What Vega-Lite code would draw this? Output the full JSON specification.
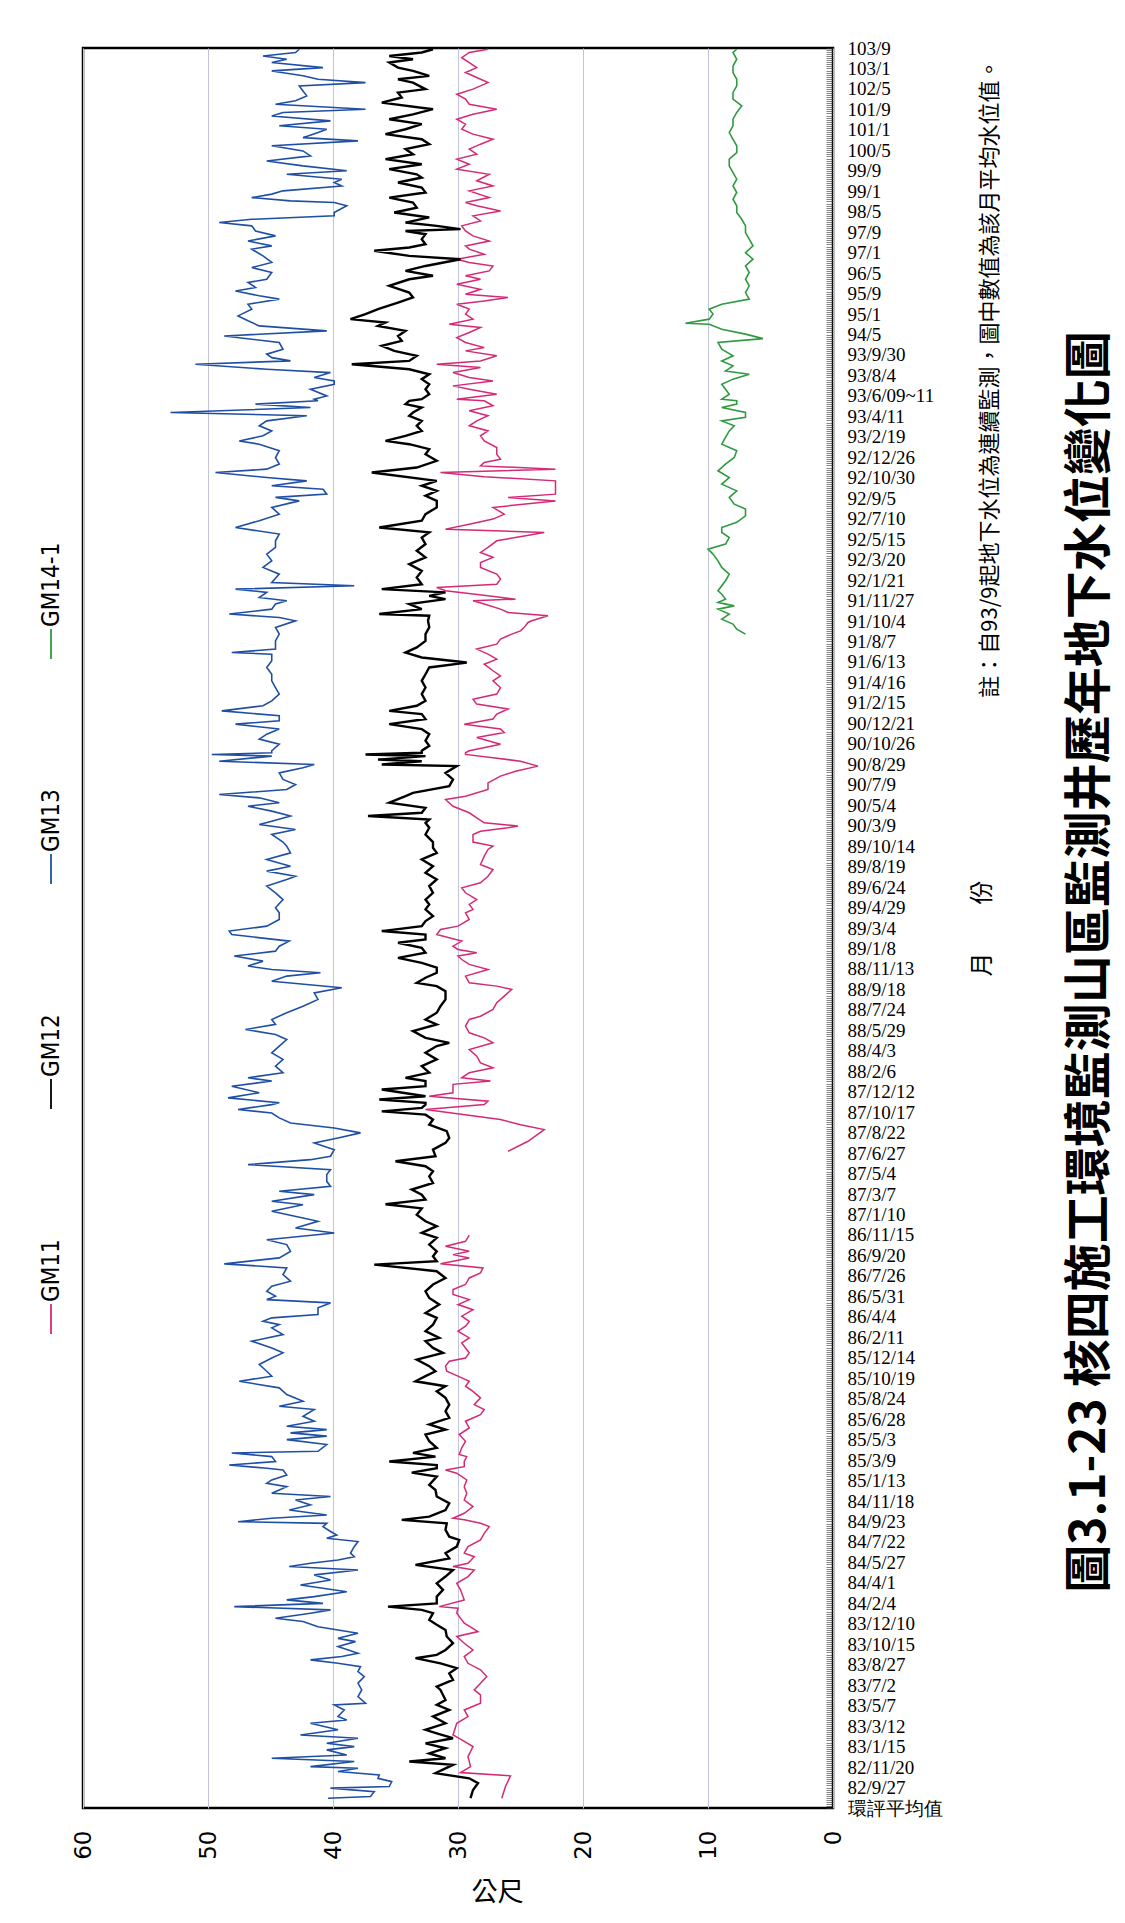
{
"$schema":"https://vega.github.io/schema/vega-lite/v6.json",
"width":750,"height":1760,
"autosize":{"type":"none"},
"padding":{"left":83,"top":48,"right":292,"bottom":115},
"background":"white",
"config":{"view":{"stroke":"#000","strokeWidth":2.5},"font":"Noto Sans CJK TC","axis":{"labelColor":"#000","titleColor":"#000"}},
"title":{"text":"圖3.1-23 核四施工環境監測山區監測井歷年地下水位變化圖","orient":"right","angle":270,"frame":"group","anchor":"middle","baseline":"middle","fontSize":48,"fontWeight":"bold","color":"#000","offset":43,"dx":-34,"font":"Noto Sans CJK TC"},
"datasets":{
"gm11a":[{"t":0.48,"v":26.5},{"t":1.05,"v":26.2},{"t":1.57,"v":25.8},{"t":1.73,"v":29.8},{"t":2.02,"v":29.0},{"t":2.51,"v":29.2},{"t":3.0,"v":28.8},{"t":3.33,"v":29.7},{"t":3.57,"v":30.4},{"t":4.14,"v":30.1},{"t":4.47,"v":29.2},{"t":4.79,"v":29.5},{"t":5.12,"v":28.2},{"t":5.53,"v":28.2},{"t":5.77,"v":28.7},{"t":6.1,"v":28.2},{"t":6.42,"v":27.7},{"t":6.75,"v":28.2},{"t":7.07,"v":29.2},{"t":7.4,"v":29.5},{"t":7.72,"v":28.8},{"t":8.05,"v":29.5},{"t":8.38,"v":30.1},{"t":8.62,"v":28.4},{"t":9.03,"v":29.5},{"t":9.52,"v":30.1},{"t":9.76,"v":30.0},{"t":9.84,"v":31.5},{"t":10.17,"v":29.5},{"t":10.66,"v":29.8},{"t":10.98,"v":30.1},{"t":11.31,"v":29.2},{"t":11.63,"v":28.7},{"t":11.8,"v":30.4},{"t":11.96,"v":29.2},{"t":12.28,"v":28.7},{"t":12.45,"v":29.5},{"t":12.77,"v":29.2},{"t":13.1,"v":28.2},{"t":13.42,"v":27.9},{"t":13.75,"v":27.5},{"t":13.91,"v":28.2},{"t":14.08,"v":29.5},{"t":14.16,"v":30.4},{"t":14.4,"v":29.5},{"t":14.73,"v":28.8},{"t":15.05,"v":29.5},{"t":15.38,"v":29.3},{"t":15.7,"v":29.5},{"t":16.03,"v":29.3},{"t":16.36,"v":30.1},{"t":16.52,"v":31.0},{"t":16.68,"v":29.5},{"t":16.93,"v":29.5},{"t":17.17,"v":29.3},{"t":17.27,"v":29.9},{"t":17.6,"v":29.7},{"t":17.92,"v":29.4},{"t":18.25,"v":29.9},{"t":18.57,"v":29.1},{"t":18.9,"v":29.4},{"t":19.22,"v":28.2},{"t":19.47,"v":27.9},{"t":19.71,"v":28.7},{"t":20.04,"v":28.2},{"t":20.36,"v":28.8},{"t":20.61,"v":29.4},{"t":20.85,"v":29.1},{"t":21.1,"v":30.0},{"t":21.34,"v":30.9},{"t":21.59,"v":31.0},{"t":21.83,"v":30.7},{"t":21.99,"v":29.4},{"t":22.24,"v":29.1},{"t":22.48,"v":29.4},{"t":22.73,"v":29.7},{"t":22.97,"v":29.1},{"t":23.3,"v":30.0},{"t":23.54,"v":29.4},{"t":23.78,"v":29.1},{"t":24.03,"v":29.7},{"t":24.35,"v":28.8},{"t":24.6,"v":30.0},{"t":24.84,"v":29.1},{"t":25.09,"v":30.4},{"t":25.33,"v":30.4},{"t":25.58,"v":29.4},{"t":25.9,"v":29.1},{"t":26.15,"v":28.2},{"t":26.39,"v":28.0},{"t":26.59,"v":31.4},{"t":26.88,"v":29.1},{"t":27.04,"v":30.4},{"t":27.2,"v":29.1},{"t":27.45,"v":31.0},{"t":27.69,"v":29.4},{"t":27.99,"v":29.1}],
"gm11b":[{"t":32.09,"v":26.0},{"t":32.58,"v":24.4},{"t":33.15,"v":23.1},{"t":33.39,"v":25.0},{"t":33.64,"v":26.6},{"t":34.13,"v":32.6},{"t":34.37,"v":27.9},{"t":34.54,"v":27.6},{"t":34.78,"v":32.3},{"t":34.95,"v":30.4},{"t":35.36,"v":30.4},{"t":35.52,"v":27.4},{"t":35.68,"v":29.7},{"t":35.93,"v":29.1},{"t":36.17,"v":27.2},{"t":36.41,"v":28.2},{"t":36.74,"v":28.5},{"t":37.06,"v":29.1},{"t":37.39,"v":27.2},{"t":37.63,"v":27.9},{"t":37.88,"v":29.1},{"t":38.21,"v":29.4},{"t":38.53,"v":29.1},{"t":38.69,"v":28.2},{"t":39.02,"v":27.2},{"t":39.35,"v":26.9},{"t":39.67,"v":26.3},{"t":40.0,"v":25.7},{"t":40.16,"v":26.9},{"t":40.32,"v":29.1},{"t":40.65,"v":29.4},{"t":40.97,"v":27.6},{"t":41.22,"v":29.1},{"t":41.46,"v":29.7},{"t":41.63,"v":30.0},{"t":41.79,"v":28.5},{"t":41.95,"v":30.0},{"t":42.11,"v":30.4},{"t":42.36,"v":29.7},{"t":42.68,"v":31.7},{"t":42.93,"v":31.4},{"t":43.09,"v":30.0},{"t":43.42,"v":29.1},{"t":43.74,"v":29.4},{"t":43.91,"v":28.8},{"t":44.15,"v":29.1},{"t":44.39,"v":28.5},{"t":44.72,"v":29.4},{"t":44.96,"v":29.7},{"t":45.21,"v":28.2},{"t":45.53,"v":27.6},{"t":45.86,"v":27.2},{"t":46.1,"v":28.2},{"t":46.51,"v":27.9},{"t":46.84,"v":27.6},{"t":47.0,"v":27.2},{"t":47.2,"v":28.8},{"t":47.57,"v":28.8},{"t":47.73,"v":28.2},{"t":47.9,"v":26.0},{"t":47.98,"v":25.2},{"t":48.14,"v":27.9},{"t":48.38,"v":28.5},{"t":48.63,"v":29.1},{"t":48.95,"v":30.4},{"t":49.28,"v":31.0},{"t":49.44,"v":29.4},{"t":49.77,"v":27.6},{"t":50.09,"v":27.6},{"t":50.42,"v":26.6},{"t":50.66,"v":25.4},{"t":50.91,"v":23.6},{"t":51.15,"v":25.0},{"t":51.32,"v":27.2},{"t":51.48,"v":29.4},{"t":51.56,"v":29.4},{"t":51.66,"v":29.1},{"t":51.98,"v":26.6},{"t":52.31,"v":28.5},{"t":52.55,"v":26.3},{"t":52.72,"v":26.6},{"t":52.96,"v":29.5},{"t":53.21,"v":27.2},{"t":53.45,"v":26.9},{"t":53.7,"v":26.0},{"t":53.94,"v":28.5},{"t":54.18,"v":28.8},{"t":54.43,"v":26.9},{"t":54.75,"v":26.6},{"t":55.08,"v":27.2},{"t":55.32,"v":26.6},{"t":55.57,"v":27.2},{"t":55.89,"v":27.9},{"t":56.14,"v":26.9},{"t":56.38,"v":27.6},{"t":56.63,"v":28.5},{"t":56.87,"v":26.9},{"t":57.12,"v":26.6},{"t":57.36,"v":25.7},{"t":57.52,"v":25.0},{"t":57.69,"v":24.7},{"t":57.93,"v":24.4},{"t":58.01,"v":24.1},{"t":58.26,"v":22.8},{"t":58.42,"v":26.0},{"t":58.58,"v":26.6},{"t":58.83,"v":27.9},{"t":58.99,"v":28.8},{"t":59.07,"v":25.4},{"t":59.23,"v":27.6},{"t":59.48,"v":31.0},{"t":59.64,"v":31.7},{"t":59.8,"v":26.9},{"t":60.05,"v":26.6},{"t":60.29,"v":26.9},{"t":60.62,"v":28.2},{"t":60.86,"v":28.2},{"t":61.11,"v":27.2},{"t":61.35,"v":28.2},{"t":61.6,"v":27.6},{"t":61.92,"v":26.9},{"t":62.16,"v":24.7},{"t":62.33,"v":23.1},{"t":62.49,"v":31.0},{"t":62.73,"v":29.1},{"t":62.98,"v":27.2},{"t":63.22,"v":26.3},{"t":63.55,"v":27.2},{"t":63.87,"v":22.2},{"t":64.04,"v":26.0},{"t":64.2,"v":22.2},{"t":64.85,"v":22.2},{"t":65.05,"v":27.9},{"t":65.26,"v":31.4},{"t":65.42,"v":22.2},{"t":65.58,"v":28.2},{"t":65.75,"v":27.9},{"t":65.91,"v":26.6},{"t":66.15,"v":26.9},{"t":66.48,"v":26.9},{"t":66.8,"v":27.9},{"t":67.05,"v":28.2},{"t":67.29,"v":27.6},{"t":67.54,"v":29.1},{"t":67.78,"v":28.5},{"t":68.03,"v":27.6},{"t":68.27,"v":29.1},{"t":68.52,"v":27.2},{"t":68.76,"v":27.9},{"t":68.84,"v":30.1},{"t":69.08,"v":26.9},{"t":69.33,"v":29.1},{"t":69.49,"v":30.4},{"t":69.73,"v":27.2},{"t":69.9,"v":29.1},{"t":70.14,"v":30.4},{"t":70.39,"v":28.2},{"t":70.55,"v":31.7},{"t":70.71,"v":28.2},{"t":70.96,"v":26.9},{"t":71.2,"v":29.4},{"t":71.36,"v":27.9},{"t":71.61,"v":29.4},{"t":71.85,"v":30.1},{"t":72.1,"v":29.1},{"t":72.34,"v":28.2},{"t":72.5,"v":30.7},{"t":72.75,"v":28.8},{"t":73.0,"v":29.4},{"t":73.24,"v":29.1},{"t":73.48,"v":30.1},{"t":73.64,"v":27.9},{"t":73.81,"v":26.0},{"t":73.97,"v":29.4},{"t":74.21,"v":28.2},{"t":74.46,"v":30.1},{"t":74.7,"v":28.2},{"t":74.87,"v":29.4},{"t":75.11,"v":27.5},{"t":75.35,"v":27.2},{"t":75.52,"v":29.1},{"t":75.68,"v":30.1},{"t":75.92,"v":27.9},{"t":76.17,"v":29.1},{"t":76.33,"v":29.4},{"t":76.57,"v":27.5},{"t":76.82,"v":28.8},{"t":77.06,"v":29.4},{"t":77.31,"v":29.7},{"t":77.55,"v":28.2},{"t":77.8,"v":28.8},{"t":78.04,"v":26.6},{"t":78.29,"v":28.5},{"t":78.45,"v":29.4},{"t":78.69,"v":27.5},{"t":79.02,"v":29.1},{"t":79.26,"v":27.2},{"t":79.51,"v":28.5},{"t":79.83,"v":27.5},{"t":80.08,"v":30.1},{"t":80.32,"v":29.1},{"t":80.57,"v":30.1},{"t":80.81,"v":28.5},{"t":81.06,"v":29.1},{"t":81.3,"v":28.2},{"t":81.54,"v":27.2},{"t":81.79,"v":28.8},{"t":82.03,"v":29.7},{"t":82.28,"v":29.4},{"t":82.52,"v":30.1},{"t":82.76,"v":28.8},{"t":83.01,"v":26.9},{"t":83.25,"v":29.1},{"t":83.5,"v":29.4},{"t":83.74,"v":30.1},{"t":83.99,"v":28.8},{"t":84.31,"v":27.6},{"t":84.56,"v":28.5},{"t":84.8,"v":29.4},{"t":85.04,"v":28.5},{"t":85.29,"v":29.1},{"t":85.53,"v":29.7},{"t":85.78,"v":29.1},{"t":85.94,"v":27.6}],
"gm12":[{"t":0.48,"v":29.0},{"t":0.88,"v":28.8},{"t":1.21,"v":28.4},{"t":1.45,"v":29.1},{"t":1.7,"v":31.8},{"t":1.94,"v":31.0},{"t":2.11,"v":30.4},{"t":2.27,"v":33.9},{"t":2.43,"v":31.0},{"t":2.67,"v":32.3},{"t":2.92,"v":31.0},{"t":3.16,"v":32.6},{"t":3.41,"v":30.4},{"t":3.65,"v":31.7},{"t":3.82,"v":32.6},{"t":4.14,"v":31.0},{"t":4.47,"v":32.0},{"t":4.79,"v":30.7},{"t":5.04,"v":31.7},{"t":5.28,"v":31.0},{"t":5.77,"v":31.4},{"t":5.93,"v":31.7},{"t":6.26,"v":30.4},{"t":6.58,"v":30.7},{"t":6.83,"v":30.1},{"t":7.07,"v":31.4},{"t":7.32,"v":33.4},{"t":7.48,"v":31.7},{"t":7.72,"v":31.0},{"t":8.05,"v":30.4},{"t":8.38,"v":30.9},{"t":8.7,"v":31.0},{"t":8.95,"v":31.7},{"t":9.19,"v":32.3},{"t":9.52,"v":32.0},{"t":9.68,"v":32.9},{"t":9.84,"v":35.6},{"t":10.0,"v":31.7},{"t":10.33,"v":31.7},{"t":10.66,"v":31.2},{"t":10.98,"v":31.7},{"t":11.31,"v":31.0},{"t":11.63,"v":30.4},{"t":11.88,"v":33.4},{"t":12.2,"v":30.7},{"t":12.45,"v":31.0},{"t":12.77,"v":30.1},{"t":13.1,"v":29.9},{"t":13.26,"v":30.7},{"t":13.59,"v":31.0},{"t":13.91,"v":30.9},{"t":14.08,"v":34.5},{"t":14.24,"v":32.3},{"t":14.56,"v":31.0},{"t":14.89,"v":30.7},{"t":15.22,"v":31.7},{"t":15.54,"v":31.8},{"t":15.79,"v":32.3},{"t":16.19,"v":31.7},{"t":16.39,"v":33.7},{"t":16.6,"v":31.7},{"t":16.76,"v":31.7},{"t":16.93,"v":35.5},{"t":17.17,"v":31.8},{"t":17.35,"v":33.6},{"t":17.6,"v":31.7},{"t":17.92,"v":32.3},{"t":18.25,"v":32.6},{"t":18.49,"v":31.0},{"t":18.74,"v":32.3},{"t":19.06,"v":30.7},{"t":19.39,"v":31.0},{"t":19.71,"v":30.7},{"t":20.04,"v":31.0},{"t":20.36,"v":31.7},{"t":20.61,"v":31.0},{"t":20.85,"v":33.4},{"t":21.1,"v":32.6},{"t":21.34,"v":31.8},{"t":21.59,"v":32.3},{"t":21.91,"v":33.3},{"t":22.24,"v":31.2},{"t":22.48,"v":32.0},{"t":22.81,"v":32.6},{"t":22.97,"v":31.5},{"t":23.3,"v":32.6},{"t":23.62,"v":32.0},{"t":23.95,"v":31.7},{"t":24.19,"v":32.6},{"t":24.6,"v":31.5},{"t":24.92,"v":32.3},{"t":25.25,"v":32.6},{"t":25.58,"v":32.0},{"t":25.9,"v":31.0},{"t":26.23,"v":31.7},{"t":26.55,"v":36.7},{"t":26.72,"v":31.7},{"t":26.96,"v":32.0},{"t":27.2,"v":31.7},{"t":27.53,"v":32.3},{"t":27.86,"v":31.7},{"t":28.1,"v":32.9},{"t":28.43,"v":31.7},{"t":28.67,"v":32.6},{"t":28.99,"v":33.3},{"t":29.3,"v":32.9},{"t":29.5,"v":35.8},{"t":29.73,"v":32.6},{"t":29.97,"v":32.9},{"t":30.22,"v":33.7},{"t":30.54,"v":32.0},{"t":30.87,"v":32.3},{"t":31.11,"v":32.0},{"t":31.36,"v":32.6},{"t":31.6,"v":35.0},{"t":31.85,"v":31.8},{"t":32.17,"v":32.0},{"t":32.5,"v":31.0},{"t":32.74,"v":30.7},{"t":33.07,"v":30.9},{"t":33.39,"v":32.3},{"t":33.64,"v":32.0},{"t":33.88,"v":32.6},{"t":34.04,"v":36.1},{"t":34.21,"v":32.9},{"t":34.37,"v":32.6},{"t":34.46,"v":32.6},{"t":34.62,"v":36.3},{"t":34.78,"v":32.6},{"t":35.11,"v":36.1},{"t":35.27,"v":32.6},{"t":35.52,"v":32.6},{"t":35.68,"v":34.2},{"t":35.93,"v":32.3},{"t":36.25,"v":32.9},{"t":36.58,"v":31.7},{"t":36.9,"v":32.6},{"t":37.23,"v":31.7},{"t":37.39,"v":30.7},{"t":37.63,"v":32.6},{"t":37.96,"v":33.6},{"t":38.29,"v":31.7},{"t":38.53,"v":32.6},{"t":38.86,"v":31.7},{"t":39.18,"v":31.4},{"t":39.51,"v":31.0},{"t":39.91,"v":31.0},{"t":40.16,"v":31.7},{"t":40.32,"v":33.3},{"t":40.57,"v":32.6},{"t":40.81,"v":31.7},{"t":41.06,"v":31.7},{"t":41.3,"v":32.9},{"t":41.54,"v":34.8},{"t":41.79,"v":32.6},{"t":42.03,"v":32.9},{"t":42.28,"v":34.8},{"t":42.44,"v":32.6},{"t":42.68,"v":32.6},{"t":42.85,"v":36.1},{"t":43.09,"v":32.9},{"t":43.34,"v":32.6},{"t":43.58,"v":32.0},{"t":43.91,"v":32.6},{"t":44.15,"v":32.3},{"t":44.39,"v":32.6},{"t":44.72,"v":32.0},{"t":45.05,"v":32.3},{"t":45.37,"v":31.7},{"t":45.7,"v":32.6},{"t":46.02,"v":32.0},{"t":46.35,"v":32.9},{"t":46.67,"v":31.7},{"t":46.92,"v":32.0},{"t":47.2,"v":32.0},{"t":47.57,"v":32.6},{"t":47.9,"v":32.3},{"t":48.14,"v":32.6},{"t":48.3,"v":32.3},{"t":48.47,"v":37.2},{"t":48.63,"v":32.9},{"t":48.87,"v":32.6},{"t":49.12,"v":35.5},{"t":49.44,"v":34.2},{"t":49.6,"v":33.6},{"t":49.93,"v":30.7},{"t":50.26,"v":30.4},{"t":50.58,"v":31.0},{"t":50.91,"v":30.1},{"t":50.99,"v":36.1},{"t":51.15,"v":32.9},{"t":51.23,"v":36.4},{"t":51.4,"v":32.6},{"t":51.48,"v":37.4},{"t":51.56,"v":32.9},{"t":51.66,"v":32.9},{"t":51.9,"v":32.3},{"t":52.15,"v":32.6},{"t":52.47,"v":32.3},{"t":52.72,"v":32.9},{"t":52.96,"v":35.5},{"t":53.21,"v":32.6},{"t":53.45,"v":32.9},{"t":53.61,"v":35.5},{"t":53.86,"v":33.3},{"t":54.1,"v":32.6},{"t":54.43,"v":32.9},{"t":54.75,"v":32.6},{"t":55.08,"v":32.9},{"t":55.4,"v":32.6},{"t":55.73,"v":32.3},{"t":55.97,"v":29.3},{"t":56.22,"v":32.9},{"t":56.46,"v":34.2},{"t":56.71,"v":33.3},{"t":57.03,"v":32.6},{"t":57.36,"v":32.6},{"t":57.69,"v":32.3},{"t":58.01,"v":32.4},{"t":58.26,"v":32.3},{"t":58.34,"v":36.3},{"t":58.58,"v":32.9},{"t":58.83,"v":33.9},{"t":59.07,"v":31.0},{"t":59.23,"v":32.3},{"t":59.4,"v":31.0},{"t":59.56,"v":36.1},{"t":59.8,"v":32.9},{"t":60.13,"v":33.3},{"t":60.45,"v":32.9},{"t":60.78,"v":33.9},{"t":61.11,"v":32.6},{"t":61.43,"v":33.3},{"t":61.76,"v":32.6},{"t":62.08,"v":32.9},{"t":62.33,"v":32.3},{"t":62.57,"v":36.3},{"t":62.9,"v":32.9},{"t":63.22,"v":32.6},{"t":63.55,"v":31.7},{"t":63.87,"v":31.7},{"t":64.12,"v":32.6},{"t":64.36,"v":31.7},{"t":64.61,"v":32.9},{"t":64.85,"v":31.7},{"t":65.26,"v":36.9},{"t":65.5,"v":33.3},{"t":65.83,"v":31.7},{"t":66.15,"v":32.6},{"t":66.4,"v":32.3},{"t":66.64,"v":33.9},{"t":66.8,"v":35.8},{"t":67.05,"v":34.2},{"t":67.29,"v":32.9},{"t":67.54,"v":33.3},{"t":67.78,"v":32.9},{"t":68.03,"v":33.9},{"t":68.19,"v":33.6},{"t":68.43,"v":32.9},{"t":68.6,"v":34.2},{"t":68.76,"v":33.9},{"t":68.84,"v":32.9},{"t":69.08,"v":32.3},{"t":69.33,"v":32.6},{"t":69.57,"v":32.3},{"t":69.82,"v":32.9},{"t":70.06,"v":32.3},{"t":70.3,"v":33.9},{"t":70.55,"v":38.5},{"t":70.71,"v":33.9},{"t":70.96,"v":33.3},{"t":71.2,"v":35.1},{"t":71.45,"v":36.1},{"t":71.69,"v":34.5},{"t":71.93,"v":34.8},{"t":72.18,"v":34.2},{"t":72.42,"v":36.4},{"t":72.59,"v":35.8},{"t":72.75,"v":38.6},{"t":73.0,"v":37.4},{"t":73.24,"v":36.4},{"t":73.56,"v":34.8},{"t":73.81,"v":33.6},{"t":74.05,"v":33.9},{"t":74.38,"v":35.5},{"t":74.7,"v":33.9},{"t":74.87,"v":32.0},{"t":75.11,"v":34.2},{"t":75.35,"v":32.6},{"t":75.68,"v":29.8},{"t":75.84,"v":33.9},{"t":76.09,"v":36.7},{"t":76.25,"v":33.9},{"t":76.41,"v":32.6},{"t":76.66,"v":32.9},{"t":76.9,"v":32.6},{"t":77.06,"v":34.2},{"t":77.15,"v":29.8},{"t":77.31,"v":31.7},{"t":77.47,"v":34.2},{"t":77.72,"v":32.3},{"t":77.96,"v":35.1},{"t":78.2,"v":33.3},{"t":78.45,"v":33.6},{"t":78.69,"v":35.5},{"t":78.94,"v":32.6},{"t":79.18,"v":32.9},{"t":79.43,"v":34.8},{"t":79.67,"v":32.9},{"t":79.83,"v":33.3},{"t":80.08,"v":35.5},{"t":80.32,"v":32.9},{"t":80.57,"v":35.8},{"t":80.81,"v":33.6},{"t":81.06,"v":34.2},{"t":81.3,"v":32.3},{"t":81.54,"v":32.9},{"t":81.79,"v":35.8},{"t":82.03,"v":34.2},{"t":82.28,"v":32.9},{"t":82.52,"v":35.5},{"t":82.76,"v":33.6},{"t":83.01,"v":32.0},{"t":83.33,"v":36.1},{"t":83.58,"v":34.5},{"t":83.82,"v":34.8},{"t":83.99,"v":32.6},{"t":84.31,"v":33.6},{"t":84.47,"v":34.8},{"t":84.64,"v":32.3},{"t":84.88,"v":33.6},{"t":85.04,"v":34.8},{"t":85.29,"v":35.5},{"t":85.45,"v":33.6},{"t":85.61,"v":35.5},{"t":85.78,"v":32.9},{"t":85.94,"v":32.0}],
"gm13":[{"t":0.48,"v":40.4},{"t":0.56,"v":37.0},{"t":0.8,"v":36.7},{"t":0.97,"v":40.2},{"t":1.05,"v":35.5},{"t":1.29,"v":35.3},{"t":1.45,"v":36.4},{"t":1.62,"v":36.3},{"t":1.78,"v":39.6},{"t":1.94,"v":38.0},{"t":2.02,"v":41.8},{"t":2.27,"v":38.3},{"t":2.43,"v":44.9},{"t":2.59,"v":38.9},{"t":2.84,"v":40.5},{"t":3.0,"v":38.3},{"t":3.16,"v":40.5},{"t":3.41,"v":38.0},{"t":3.57,"v":42.6},{"t":3.82,"v":39.6},{"t":4.14,"v":41.8},{"t":4.3,"v":38.9},{"t":4.47,"v":39.6},{"t":4.79,"v":39.1},{"t":5.04,"v":39.9},{"t":5.12,"v":37.4},{"t":5.44,"v":38.0},{"t":5.77,"v":37.7},{"t":6.1,"v":38.0},{"t":6.42,"v":37.5},{"t":6.67,"v":38.0},{"t":6.91,"v":37.8},{"t":7.07,"v":39.6},{"t":7.24,"v":41.8},{"t":7.4,"v":39.3},{"t":7.56,"v":38.0},{"t":7.89,"v":39.6},{"t":8.13,"v":38.2},{"t":8.29,"v":39.6},{"t":8.54,"v":38.0},{"t":8.7,"v":39.6},{"t":8.86,"v":41.2},{"t":9.11,"v":42.4},{"t":9.27,"v":44.6},{"t":9.52,"v":41.8},{"t":9.68,"v":40.2},{"t":9.84,"v":47.9},{"t":10.0,"v":40.8},{"t":10.17,"v":43.7},{"t":10.33,"v":41.5},{"t":10.57,"v":38.9},{"t":10.74,"v":40.8},{"t":10.9,"v":42.6},{"t":11.14,"v":40.2},{"t":11.39,"v":41.5},{"t":11.63,"v":38.0},{"t":11.8,"v":43.5},{"t":11.96,"v":41.8},{"t":12.12,"v":39.6},{"t":12.28,"v":38.3},{"t":12.45,"v":38.6},{"t":12.77,"v":38.3},{"t":13.02,"v":38.0},{"t":13.18,"v":40.5},{"t":13.34,"v":39.7},{"t":13.51,"v":40.2},{"t":13.75,"v":40.8},{"t":13.91,"v":40.5},{"t":13.99,"v":47.6},{"t":14.16,"v":44.9},{"t":14.32,"v":40.5},{"t":14.56,"v":43.5},{"t":14.81,"v":41.8},{"t":15.05,"v":43.0},{"t":15.22,"v":40.2},{"t":15.38,"v":44.9},{"t":15.54,"v":44.3},{"t":15.7,"v":43.7},{"t":15.87,"v":45.3},{"t":16.03,"v":44.9},{"t":16.27,"v":43.7},{"t":16.52,"v":44.0},{"t":16.6,"v":45.3},{"t":16.76,"v":48.3},{"t":16.93,"v":44.6},{"t":17.17,"v":44.9},{"t":17.35,"v":48.1},{"t":17.43,"v":41.2},{"t":17.76,"v":40.5},{"t":18.0,"v":43.7},{"t":18.17,"v":40.5},{"t":18.33,"v":43.4},{"t":18.49,"v":40.5},{"t":18.65,"v":43.7},{"t":18.9,"v":41.5},{"t":19.14,"v":42.4},{"t":19.47,"v":41.5},{"t":19.63,"v":44.3},{"t":19.87,"v":42.4},{"t":20.2,"v":43.7},{"t":20.53,"v":44.3},{"t":20.85,"v":47.5},{"t":21.1,"v":44.9},{"t":21.34,"v":45.3},{"t":21.67,"v":45.9},{"t":21.99,"v":44.9},{"t":22.24,"v":44.0},{"t":22.48,"v":44.9},{"t":22.81,"v":46.5},{"t":23.13,"v":44.0},{"t":23.46,"v":44.9},{"t":23.62,"v":44.3},{"t":23.78,"v":45.6},{"t":23.95,"v":44.9},{"t":24.11,"v":41.2},{"t":24.44,"v":41.2},{"t":24.68,"v":40.2},{"t":24.84,"v":45.3},{"t":25.01,"v":44.6},{"t":25.25,"v":45.3},{"t":25.5,"v":44.9},{"t":25.74,"v":43.4},{"t":26.06,"v":44.0},{"t":26.39,"v":43.7},{"t":26.59,"v":48.7},{"t":26.88,"v":44.3},{"t":27.2,"v":43.4},{"t":27.53,"v":43.7},{"t":27.77,"v":45.3},{"t":28.1,"v":39.9},{"t":28.34,"v":43.0},{"t":28.67,"v":41.2},{"t":28.83,"v":42.4},{"t":29.16,"v":44.9},{"t":29.48,"v":42.4},{"t":29.65,"v":44.9},{"t":29.97,"v":41.5},{"t":30.14,"v":44.3},{"t":30.38,"v":40.2},{"t":30.62,"v":40.5},{"t":30.95,"v":40.5},{"t":31.19,"v":40.2},{"t":31.44,"v":46.8},{"t":31.68,"v":41.8},{"t":31.85,"v":40.2},{"t":32.17,"v":39.9},{"t":32.5,"v":41.5},{"t":32.74,"v":39.6},{"t":32.99,"v":37.8},{"t":33.23,"v":39.9},{"t":33.47,"v":43.4},{"t":33.72,"v":44.3},{"t":33.96,"v":44.9},{"t":34.13,"v":47.6},{"t":34.37,"v":44.9},{"t":34.46,"v":44.3},{"t":34.7,"v":48.4},{"t":34.95,"v":45.9},{"t":35.27,"v":48.1},{"t":35.52,"v":44.9},{"t":35.68,"v":46.8},{"t":35.93,"v":44.0},{"t":36.25,"v":44.6},{"t":36.58,"v":44.0},{"t":36.9,"v":44.9},{"t":37.23,"v":44.3},{"t":37.55,"v":43.7},{"t":37.8,"v":44.6},{"t":38.04,"v":47.0},{"t":38.29,"v":44.6},{"t":38.53,"v":44.9},{"t":38.86,"v":43.7},{"t":39.18,"v":42.4},{"t":39.51,"v":41.2},{"t":39.83,"v":41.5},{"t":40.08,"v":39.3},{"t":40.4,"v":44.9},{"t":40.65,"v":43.7},{"t":40.81,"v":41.0},{"t":40.97,"v":44.9},{"t":41.14,"v":46.8},{"t":41.38,"v":45.6},{"t":41.63,"v":47.9},{"t":41.87,"v":44.6},{"t":42.11,"v":44.3},{"t":42.36,"v":43.5},{"t":42.68,"v":48.1},{"t":42.85,"v":48.3},{"t":43.09,"v":45.3},{"t":43.42,"v":44.3},{"t":43.74,"v":44.3},{"t":43.99,"v":44.6},{"t":44.39,"v":44.0},{"t":44.72,"v":44.6},{"t":45.05,"v":45.3},{"t":45.37,"v":43.7},{"t":45.53,"v":43.0},{"t":45.78,"v":45.3},{"t":46.02,"v":43.4},{"t":46.35,"v":45.3},{"t":46.67,"v":43.4},{"t":47.0,"v":43.7},{"t":47.2,"v":44.0},{"t":47.57,"v":44.9},{"t":47.81,"v":43.0},{"t":48.06,"v":45.9},{"t":48.22,"v":44.9},{"t":48.47,"v":43.4},{"t":48.71,"v":44.9},{"t":48.95,"v":46.8},{"t":49.12,"v":44.3},{"t":49.36,"v":45.9},{"t":49.52,"v":49.1},{"t":49.77,"v":43.7},{"t":50.01,"v":43.0},{"t":50.26,"v":44.0},{"t":50.58,"v":44.3},{"t":50.83,"v":42.4},{"t":50.99,"v":41.5},{"t":51.15,"v":49.1},{"t":51.4,"v":44.9},{"t":51.48,"v":49.7},{"t":51.56,"v":44.9},{"t":51.66,"v":44.9},{"t":51.98,"v":44.3},{"t":52.23,"v":45.9},{"t":52.47,"v":45.3},{"t":52.72,"v":44.3},{"t":52.96,"v":47.8},{"t":53.13,"v":44.3},{"t":53.37,"v":44.3},{"t":53.61,"v":48.9},{"t":53.86,"v":45.6},{"t":54.1,"v":44.9},{"t":54.43,"v":44.3},{"t":54.75,"v":44.6},{"t":55.08,"v":44.9},{"t":55.4,"v":44.9},{"t":55.73,"v":45.3},{"t":56.06,"v":44.9},{"t":56.38,"v":44.9},{"t":56.46,"v":48.1},{"t":56.63,"v":44.6},{"t":57.03,"v":44.6},{"t":57.36,"v":44.3},{"t":57.69,"v":44.6},{"t":58.01,"v":43.0},{"t":58.17,"v":44.3},{"t":58.34,"v":48.3},{"t":58.58,"v":44.9},{"t":58.83,"v":44.6},{"t":58.99,"v":43.7},{"t":59.15,"v":45.9},{"t":59.4,"v":45.3},{"t":59.56,"v":47.8},{"t":59.72,"v":38.3},{"t":59.88,"v":44.9},{"t":60.29,"v":44.3},{"t":60.62,"v":45.6},{"t":60.94,"v":44.9},{"t":61.27,"v":45.3},{"t":61.6,"v":44.6},{"t":61.92,"v":44.6},{"t":62.25,"v":44.3},{"t":62.57,"v":47.8},{"t":62.9,"v":45.9},{"t":63.22,"v":44.3},{"t":63.55,"v":44.9},{"t":63.87,"v":42.7},{"t":64.04,"v":44.6},{"t":64.2,"v":40.5},{"t":64.44,"v":40.8},{"t":64.61,"v":44.9},{"t":64.85,"v":42.1},{"t":65.01,"v":45.3},{"t":65.26,"v":49.4},{"t":65.42,"v":45.3},{"t":65.67,"v":44.3},{"t":65.99,"v":44.6},{"t":66.32,"v":44.3},{"t":66.64,"v":45.9},{"t":66.8,"v":47.5},{"t":67.05,"v":45.6},{"t":67.29,"v":44.9},{"t":67.54,"v":45.9},{"t":67.78,"v":45.3},{"t":68.03,"v":42.1},{"t":68.19,"v":53.0},{"t":68.43,"v":41.8},{"t":68.6,"v":46.2},{"t":68.76,"v":41.2},{"t":68.84,"v":41.5},{"t":69.0,"v":40.5},{"t":69.33,"v":41.8},{"t":69.57,"v":39.9},{"t":69.73,"v":39.9},{"t":69.9,"v":41.5},{"t":70.14,"v":40.2},{"t":70.3,"v":45.3},{"t":70.55,"v":51.0},{"t":70.71,"v":43.4},{"t":70.87,"v":44.9},{"t":71.04,"v":45.3},{"t":71.28,"v":44.0},{"t":71.61,"v":44.3},{"t":71.93,"v":48.7},{"t":72.18,"v":40.5},{"t":72.42,"v":45.9},{"t":72.67,"v":46.8},{"t":72.91,"v":47.6},{"t":73.24,"v":46.5},{"t":73.48,"v":46.8},{"t":73.73,"v":44.3},{"t":73.89,"v":45.9},{"t":74.13,"v":47.8},{"t":74.3,"v":46.2},{"t":74.54,"v":46.8},{"t":74.7,"v":45.3},{"t":75.03,"v":44.9},{"t":75.27,"v":46.5},{"t":75.52,"v":44.9},{"t":75.84,"v":45.6},{"t":76.17,"v":46.5},{"t":76.33,"v":44.9},{"t":76.57,"v":46.8},{"t":76.82,"v":44.6},{"t":77.06,"v":46.2},{"t":77.31,"v":46.5},{"t":77.47,"v":49.1},{"t":77.63,"v":46.5},{"t":77.8,"v":39.9},{"t":77.96,"v":39.9},{"t":78.29,"v":38.9},{"t":78.45,"v":39.9},{"t":78.53,"v":43.4},{"t":78.69,"v":46.5},{"t":78.86,"v":44.9},{"t":79.02,"v":44.0},{"t":79.26,"v":39.3},{"t":79.43,"v":39.9},{"t":79.59,"v":39.3},{"t":79.83,"v":43.7},{"t":80.0,"v":38.9},{"t":80.24,"v":42.4},{"t":80.48,"v":45.3},{"t":80.73,"v":41.8},{"t":80.97,"v":42.4},{"t":81.22,"v":44.9},{"t":81.46,"v":38.0},{"t":81.62,"v":42.4},{"t":81.87,"v":41.2},{"t":82.03,"v":40.5},{"t":82.2,"v":44.3},{"t":82.44,"v":40.2},{"t":82.68,"v":44.9},{"t":82.85,"v":44.0},{"t":83.01,"v":37.4},{"t":83.25,"v":44.6},{"t":83.42,"v":43.0},{"t":83.66,"v":42.1},{"t":83.9,"v":42.4},{"t":84.15,"v":42.7},{"t":84.31,"v":37.4},{"t":84.47,"v":41.2},{"t":84.64,"v":42.4},{"t":84.88,"v":44.9},{"t":85.04,"v":40.8},{"t":85.29,"v":44.9},{"t":85.45,"v":43.7},{"t":85.61,"v":45.6},{"t":85.78,"v":43.0},{"t":85.94,"v":42.7}],
"gm14":[{"t":57.36,"v":7.0},{"t":57.6,"v":7.7},{"t":57.85,"v":8.0},{"t":58.09,"v":8.9},{"t":58.34,"v":8.3},{"t":58.58,"v":9.2},{"t":58.74,"v":7.9},{"t":58.91,"v":9.2},{"t":59.07,"v":8.6},{"t":59.31,"v":8.9},{"t":59.48,"v":9.2},{"t":59.97,"v":8.6},{"t":60.29,"v":8.3},{"t":60.62,"v":8.9},{"t":60.94,"v":9.2},{"t":61.27,"v":9.6},{"t":61.51,"v":10.0},{"t":61.76,"v":8.6},{"t":62.08,"v":8.3},{"t":62.33,"v":8.9},{"t":62.57,"v":8.9},{"t":62.82,"v":7.7},{"t":63.14,"v":7.0},{"t":63.47,"v":7.0},{"t":63.71,"v":7.9},{"t":64.04,"v":8.3},{"t":64.36,"v":7.7},{"t":64.69,"v":8.9},{"t":65.01,"v":8.3},{"t":65.34,"v":9.2},{"t":65.67,"v":8.6},{"t":65.99,"v":7.9},{"t":66.32,"v":7.7},{"t":66.64,"v":8.9},{"t":66.97,"v":8.6},{"t":67.29,"v":8.3},{"t":67.54,"v":7.9},{"t":67.78,"v":8.9},{"t":67.95,"v":7.0},{"t":68.19,"v":7.0},{"t":68.43,"v":8.9},{"t":68.6,"v":7.7},{"t":68.76,"v":7.7},{"t":68.84,"v":8.9},{"t":69.08,"v":8.3},{"t":69.33,"v":8.6},{"t":69.57,"v":8.9},{"t":69.82,"v":8.0},{"t":70.06,"v":6.7},{"t":70.22,"v":8.6},{"t":70.47,"v":8.0},{"t":70.71,"v":8.9},{"t":70.96,"v":8.0},{"t":71.28,"v":8.9},{"t":71.61,"v":9.2},{"t":71.8,"v":5.6},{"t":72.02,"v":7.0},{"t":72.26,"v":8.9},{"t":72.5,"v":9.9},{"t":72.55,"v":11.8},{"t":72.75,"v":9.9},{"t":73.0,"v":9.6},{"t":73.24,"v":9.9},{"t":73.48,"v":8.9},{"t":73.73,"v":6.7},{"t":74.05,"v":7.0},{"t":74.38,"v":6.7},{"t":74.7,"v":7.0},{"t":75.03,"v":6.7},{"t":75.35,"v":7.0},{"t":75.68,"v":6.4},{"t":76.0,"v":7.0},{"t":76.33,"v":6.4},{"t":76.66,"v":6.7},{"t":76.98,"v":7.0},{"t":77.31,"v":7.0},{"t":77.63,"v":7.3},{"t":77.96,"v":7.7},{"t":78.29,"v":7.7},{"t":78.61,"v":8.0},{"t":78.94,"v":7.7},{"t":79.26,"v":8.0},{"t":79.59,"v":7.7},{"t":79.91,"v":8.0},{"t":80.24,"v":8.3},{"t":80.57,"v":8.3},{"t":80.89,"v":7.7},{"t":81.22,"v":7.7},{"t":81.54,"v":8.0},{"t":81.87,"v":8.3},{"t":82.2,"v":8.0},{"t":82.52,"v":8.0},{"t":82.85,"v":7.7},{"t":83.17,"v":7.3},{"t":83.5,"v":8.0},{"t":83.82,"v":8.0},{"t":84.15,"v":7.7},{"t":84.47,"v":7.7},{"t":84.8,"v":8.0},{"t":85.12,"v":8.0},{"t":85.45,"v":7.7},{"t":85.78,"v":8.0},{"t":85.94,"v":7.7}]
},
"encoding":{
"x":{"field":"v","type":"quantitative","scale":{"domain":[0,60],"reverse":true,"nice":false,"zero":false},
"axis":{"orient":"bottom","values":[0,10,20,30,40,50,60],"labelAngle":270,"labelFont":"DejaVu Sans","labelFontSize":23,"labelPadding":22,"labelFlush":false,"ticks":false,"domain":false,"grid":true,"gridColor":"#c3c3da","gridWidth":1,"title":"公尺","titleFont":"Noto Sans CJK TC","titleFontSize":26,"titleFontWeight":"normal","titleAngle":0,"titleAlign":"center","titleBaseline":"middle","titleX":414,"titleY":84}},
"order":{"field":"t","type":"quantitative"}
},
"resolve":{"axis":{"y":"independent"}},
"layer":[
{"data":{"name":"gm14"},"mark":{"type":"line","strokeWidth":1.6},
"encoding":{"y":{"field":"t","type":"quantitative","scale":{"domain":[0,86],"nice":false,"zero":false},"axis":null},
"color":{"datum":"GM14-1","type":"nominal","scale":{"domain":["GM14-1","GM13","GM12","GM11"],"range":["#2f9a40","#1f4fa5","#000000","#d42a76"]},
"legend":{"orient":"none","legendX":-48,"legendY":580,"direction":"vertical","title":null,"padding":0,"symbolType":"M0,-1L0,1","symbolSize":900,"symbolStrokeWidth":1.8,"labelFont":"Liberation Sans Narrow, DejaVu Sans Condensed, Liberation Sans, sans-serif","labelFontSize":24,"labelColor":"#000","labelOffset":0,"rowPadding":126,
"encode":{"labels":{"update":{"angle":{"value":270},"dx":{"value":17},"dy":{"value":-15},"align":{"value":"left"},"baseline":{"value":"middle"}}}}}}}},
{"data":{"name":"gm11a"},"mark":{"type":"line","strokeWidth":1.5},
"encoding":{"y":{"field":"t","type":"quantitative","scale":{"domain":[0,86],"nice":false,"zero":false},"axis":null},"color":{"datum":"GM11","type":"nominal"}}},
{"data":{"name":"gm11b"},"mark":{"type":"line","strokeWidth":1.5},
"encoding":{"y":{"field":"t","type":"quantitative","scale":{"domain":[0,86],"nice":false,"zero":false},"axis":null},"color":{"datum":"GM11","type":"nominal"}}},
{"data":{"name":"gm12"},"mark":{"type":"line","strokeWidth":2.4},
"encoding":{"y":{"field":"t","type":"quantitative","scale":{"domain":[0,86],"nice":false,"zero":false},
"axis":{"orient":"right","labels":false,"ticks":false,"domain":false,"grid":false,"title":"註：自93/9起地下水位為連續監測，圖中數值為該月平均水位值。","titleFont":"Noto Sans CJK TC","titleFontSize":22,"titleFontWeight":"normal","titleAngle":270,"titleAlign":"right","titleBaseline":"middle","titleX":156,"titleY":10}},
"color":{"datum":"GM12","type":"nominal"}}},
{"data":{"name":"gm13"},"mark":{"type":"line","strokeWidth":1.6},
"encoding":{"y":{"field":"t","type":"quantitative","scale":{"domain":[0,86],"nice":false,"zero":false},
"axis":{"orient":"right","tickCount":860,"labelOverlap":false,"labelFlush":false,"labelBound":false,"labelAngle":0,"labelAlign":"left","labelBaseline":"middle","labelFont":"Liberation Serif","labelFontSize":19,"labelPadding":21,"tickSize":-7,"tickColor":"#333","tickWidth":0.6,"domain":false,"grid":false,
"labelExpr":"datum.value % 1 === 0 ? ['環評平均值','82/9/27','82/11/20','83/1/15','83/3/12','83/5/7','83/7/2','83/8/27','83/10/15','83/12/10','84/2/4','84/4/1','84/5/27','84/7/22','84/9/23','84/11/18','85/1/13','85/3/9','85/5/3','85/6/28','85/8/24','85/10/19','85/12/14','86/2/11','86/4/4','86/5/31','86/7/26','86/9/20','86/11/15','87/1/10','87/3/7','87/5/4','87/6/27','87/8/22','87/10/17','87/12/12','88/2/6','88/4/3','88/5/29','88/7/24','88/9/18','88/11/13','89/1/8','89/3/4','89/4/29','89/6/24','89/8/19','89/10/14','90/3/9','90/5/4','90/7/9','90/8/29','90/10/26','90/12/21','91/2/15','91/4/16','91/6/13','91/8/7','91/10/4','91/11/27','92/1/21','92/3/20','92/5/15','92/7/10','92/9/5','92/10/30','92/12/26','93/2/19','93/4/11','93/6/09~11','93/8/4','93/9/30','94/5','95/1','95/9','96/5','97/1','97/9','98/5','99/1','99/9','100/5','101/1','101/9','102/5','103/1','103/9'][datum.value] : ''",
"title":"月　　份","titleFont":"Noto Sans CJK TC","titleFontSize":24,"titleFontWeight":"normal","titleAngle":270,"titleAlign":"center","titleBaseline":"middle","titleX":149,"titleY":880}},
"color":{"datum":"GM13","type":"nominal"}}}
]
}
